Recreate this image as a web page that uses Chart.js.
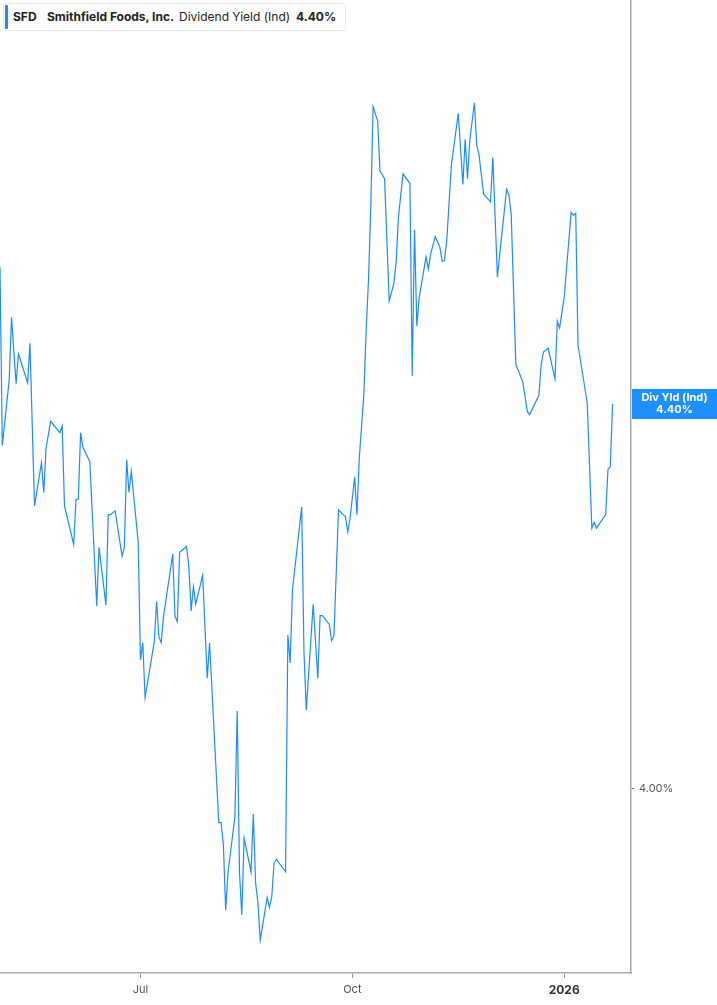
<!DOCTYPE html>
<html>
<head>
<meta charset="utf-8">
<title>SFD Dividend Yield</title>
<script src="https://cdn.jsdelivr.net/npm/chart.js@4.4.1/dist/chart.umd.min.js"></script>
<style>
  body { margin: 0; background: #fff; font-family: Inter, 'Noto Sans', sans-serif; }
  #wrap { position: relative; width: 717px; height: 1005px; }
  .legend { position: absolute; left: 3px; top: 3px; width: 341px; height: 26px; border: 1px solid #e8e8e8; border-radius: 3px; background: #fff; }
  .legend .bar { position: absolute; left: 1px; top: 1px; width: 3px; height: 24px; background: #1a8cff; border-radius: 1px; }
  .legend span { position: absolute; top: 5px; font-size: 12px; line-height: 16px; color: #222; white-space: nowrap; }
  .legend b { font-weight: 700; }
</style>
</head>
<body>
<div id="wrap">
  <canvas id="yieldChart"></canvas>
  <div class="legend">
    <div class="bar"></div>
    <span style="left:9px"><b>SFD</b></span>
    <span style="left:43px"><b>Smithfield Foods, Inc.</b></span>
    <span style="left:175px">Dividend Yield (Ind)</span>
    <span style="left:292px"><b>4.40%</b></span>
  </div>
</div>
<script>
// days since 1 May 2025
const dayOffsets = [
  0, 1, 4, 5, 7, 8, 12, 13, 15, 18, 19, 20, 22, 26, 27, 28, 32, 33, 34, 35,
  36, 39, 42, 43, 46, 47, 48, 50, 53, 54, 55, 56, 57, 60, 61, 62, 63, 67, 68, 69,
  70, 71, 75, 76, 77, 78, 81, 82, 83, 84, 85, 88, 90, 91, 95, 96, 97, 98, 99, 102,
  103, 104, 105, 106, 109, 110, 111, 112, 113, 116, 117, 118, 119, 120, 124, 125, 126, 127, 131, 132,
  133, 136, 138, 139, 140, 143, 144, 145, 147, 149, 150, 151, 152, 154, 155, 156, 158, 159, 160, 161,
  162, 164, 165, 167, 169, 171, 172, 173, 175, 178, 179, 180, 181, 182, 185, 186, 187, 189, 191, 192,
  193, 194, 196, 199, 201, 202, 203, 204, 206, 207, 208, 210, 213, 214, 216, 219, 220, 221, 222, 224,
  227, 229, 230, 234, 235, 236, 238, 241, 242, 243, 245, 248, 249, 250, 251, 255, 257, 258, 259, 263,
  264, 265, 266
];

// dividend yield (indicated), %
const divYield = [
  4.542, 4.357, 4.425, 4.490, 4.421, 4.452, 4.422, 4.463, 4.294, 4.339, 4.308, 4.354, 4.382, 4.370, 4.377, 4.294, 4.254, 4.301, 4.301, 4.370,
  4.355, 4.340, 4.190, 4.251, 4.191, 4.285, 4.285, 4.289, 4.242, 4.251, 4.342, 4.308, 4.330, 4.257, 4.134, 4.152, 4.095, 4.153, 4.195, 4.158,
  4.152, 4.179, 4.244, 4.179, 4.174, 4.246, 4.252, 4.231, 4.185, 4.210, 4.192, 4.222, 4.115, 4.152, 3.965, 3.965, 3.942, 3.874, 3.913, 3.971,
  4.081, 3.913, 3.869, 3.949, 3.914, 3.974, 3.902, 3.882, 3.843, 3.887, 3.877, 3.888, 3.923, 3.927, 3.914, 4.160, 4.131, 4.207, 4.293, 4.142,
  4.082, 4.192, 4.115, 4.180, 4.180, 4.171, 4.154, 4.159, 4.290, 4.285, 4.283, 4.267, 4.281, 4.324, 4.285, 4.343, 4.410, 4.477, 4.528, 4.603,
  4.709, 4.694, 4.642, 4.634, 4.507, 4.525, 4.546, 4.594, 4.639, 4.629, 4.429, 4.581, 4.481, 4.510, 4.553, 4.540, 4.556, 4.574, 4.563, 4.548,
  4.549, 4.570, 4.648, 4.702, 4.628, 4.675, 4.634, 4.674, 4.713, 4.669, 4.659, 4.618, 4.610, 4.656, 4.532, 4.601, 4.623, 4.617, 4.596, 4.441,
  4.423, 4.392, 4.389, 4.409, 4.441, 4.454, 4.458, 4.426, 4.486, 4.479, 4.511, 4.599, 4.596, 4.598, 4.461, 4.401, 4.271, 4.277, 4.271, 4.285,
  4.332, 4.335, 4.400
];

const tickDays = [61, 153, 245];
const tickLabels = ['Jul', 'Oct', '2026'];
const yTicks = [4.0];

const lineColor = '#1a8cff';
const tagColor = '#1e8fff';
const lastVal = divYield[divYield.length - 1];

// blue price tag on the right axis
const valueTag = {
  id: 'valueTag',
  afterDraw(chart) {
    const { ctx, chartArea, scales } = chart;
    const y = scales.y.getPixelForValue(lastVal);
    const left = chartArea.right + 1;
    ctx.save();
    ctx.fillStyle = tagColor;
    ctx.fillRect(left, y - 15, chart.width - left, 30);
    ctx.fillStyle = '#fff';
    ctx.font = 'bold 11px Inter, sans-serif';
    ctx.textAlign = 'center';
    ctx.textBaseline = 'middle';
    const cx = (left + chart.width) / 2;
    ctx.fillText('Div Yld (Ind)', cx, y - 6);
    ctx.fillText(lastVal.toFixed(2) + '%', cx, y + 6);
    ctx.restore();
  }
};

const ctx = document.getElementById('yieldChart').getContext('2d');
new Chart(ctx, {
  type: 'line',
  data: {
    datasets: [{
      label: 'Dividend Yield (Ind)',
      data: dayOffsets.map((d, i) => ({ x: d, y: divYield[i] })),
      borderColor: lineColor,
      borderWidth: 1.2,
      pointRadius: 0,
      tension: 0,
      fill: false
    }]
  },
  options: {
    responsive: true,
    maintainAspectRatio: false,
    animation: false,
    layout: { padding: 0 },
    plugins: {
      legend: { display: false },
      tooltip: { enabled: false }
    },
    scales: {
      x: {
        type: 'linear',
        min: 0,
        max: 274,
        afterBuildTicks: s => { s.ticks = tickDays.map(v => ({ value: v })); },
        afterFit: s => { s.height = 32; s.paddingLeft = 0; s.paddingRight = 0; },
        grid: { drawOnChartArea: false, tickLength: 5, tickColor: '#999' },
        border: { color: '#aaa', width: 1.5 },
        ticks: {
          autoSkip: false,
          maxRotation: 0,
          padding: 5,
          callback: v => tickLabels[tickDays.indexOf(v)],
          color: c => c.index === 2 ? '#333' : '#555',
          font: c => c.index === 2
            ? { family: 'Inter, sans-serif', size: 12, weight: 'bold' }
            : { family: 'Inter, sans-serif', size: 11 }
        }
      },
      y: {
        position: 'right',
        min: 3.8088,
        max: 4.8197,
        afterBuildTicks: s => { s.ticks = yTicks.map(v => ({ value: v })); },
        afterFit: s => { s.width = 86; s.paddingTop = 0; s.paddingBottom = 0; },
        grid: { drawOnChartArea: false, tickLength: 3, tickColor: '#777' },
        border: { color: '#aaa', width: 1.5 },
        ticks: {
          padding: 5,
          color: '#5a5a66',
          font: { family: 'Inter, sans-serif', size: 11 },
          callback: v => v.toFixed(2) + '%'
        }
      }
    }
  },
  plugins: [valueTag]
});
</script>
</body>
</html>
